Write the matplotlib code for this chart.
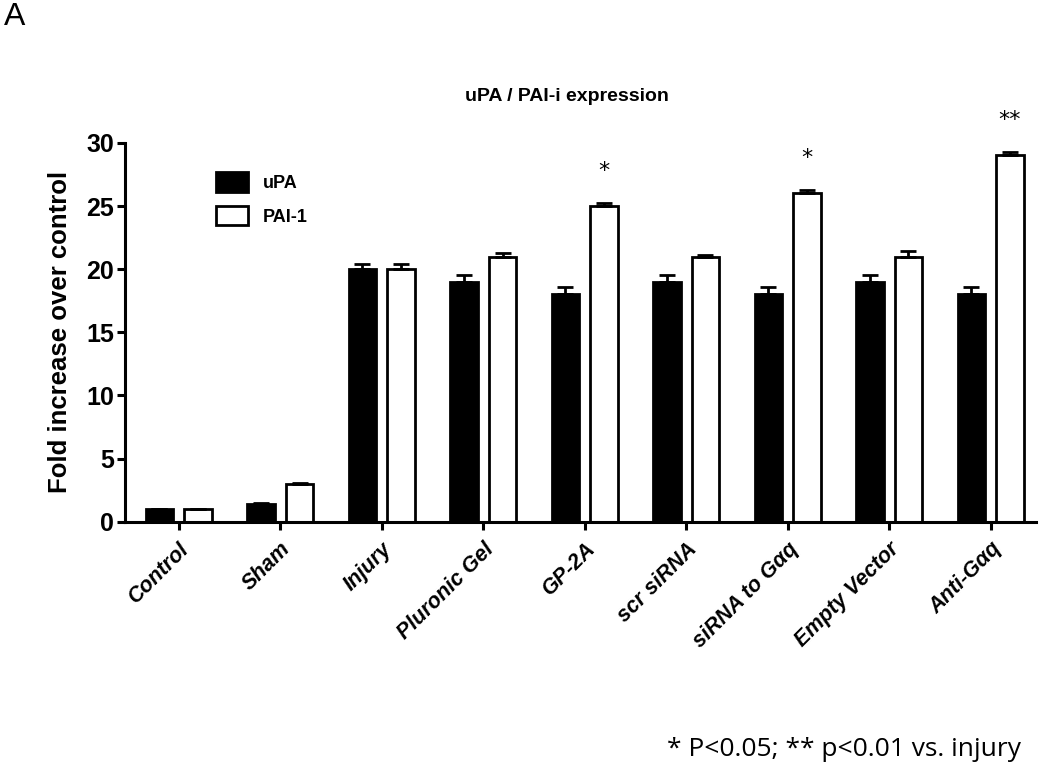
import numpy as np
import matplotlib
matplotlib.use('Agg')
import matplotlib.pyplot as plt

plt.rcParams['font.family'] = ['Liberation Sans', 'DejaVu Sans']

groups = ['Control', 'Sham', 'Injury', 'Pluronic Gel', 'GP-2A', 'scr siRNA',
          'siRNA to Gαq', 'Empty Vector', 'Anti-Gαq']
upa = [1.0, 1.4, 20.0, 19.0, 18.0, 19.0, 18.0, 19.0, 18.0]
upa_err = [0.05, 0.05, 0.4, 0.5, 0.55, 0.5, 0.55, 0.5, 0.55]
pai = [1.0, 3.0, 20.0, 21.0, 25.0, 21.0, 26.0, 21.0, 29.0]
pai_err = [0.05, 0.05, 0.4, 0.3, 0.25, 0.1, 0.3, 0.45, 0.3]
stars = ['', '', '', '', '*', '', '*', '', '**']

fig = plt.figure(figsize=(10.5, 7.64), dpi=100)
ax = fig.add_axes([0.119, 0.317, 0.868, 0.496])

x = np.arange(len(groups))
w = 0.27
off = 0.19
ekw = dict(ecolor='black', elinewidth=2, capsize=6, capthick=2)
ax.bar(x - off, upa, w, color='black', edgecolor='black', linewidth=2, label='uPA',
       yerr=[np.zeros(len(upa)), upa_err], error_kw=ekw)
ax.bar(x + off, pai, w, color='white', edgecolor='black', linewidth=2, label='PAI-1',
       yerr=[np.zeros(len(pai)), pai_err], error_kw=ekw)

# significance marks above PAI-1 bars
for i, s in enumerate(stars):
    if s:
        ax.text(x[i] + off, pai[i] + pai_err[i] + 2.5, s, ha='center', va='center',
                fontsize=16, family='DejaVu Sans')

ax.set_xlim(-0.53, 8.45)
ax.set_ylim(0, 30)
ax.set_yticks([0, 5, 10, 15, 20, 25, 30])
ax.set_xticks(x)
ax.set_xticklabels(groups, rotation=45, ha='right', rotation_mode='anchor',
                   fontsize=15.5, fontweight='bold', fontstyle='italic')
for t in ax.get_yticklabels():
    t.set_fontsize(18)
    t.set_fontweight('bold')
ax.spines['top'].set_visible(False)
ax.spines['right'].set_visible(False)
ax.spines['left'].set_linewidth(2.2)
ax.spines['bottom'].set_linewidth(2.2)
ax.tick_params(axis='both', width=2.2, length=6, direction='out')
ax.tick_params(axis='y', pad=2)
ax.tick_params(axis='x', pad=6)
ax.set_ylabel('Fold increase over control', fontsize=18.5, fontweight='bold', labelpad=10)
ax.set_title('uPA / PAI-i expression', fontsize=14, fontweight='bold', pad=30, x=0.485)

leg = ax.legend(loc='upper left', bbox_to_anchor=(0.082, 0.965), frameon=False,
                prop=dict(size=13, weight='bold'), handlelength=1.8, handleheight=1.3,
                labelspacing=0.75)

fig.text(0.004, 0.997, 'A', fontsize=23, va='top', ha='left')
fig.text(0.972, 0.003, '* P<0.05; ** p<0.01 vs. injury', fontsize=19, ha='right',
         va='bottom', family='Open Sans')

fig.savefig('out.png', dpi=100)
